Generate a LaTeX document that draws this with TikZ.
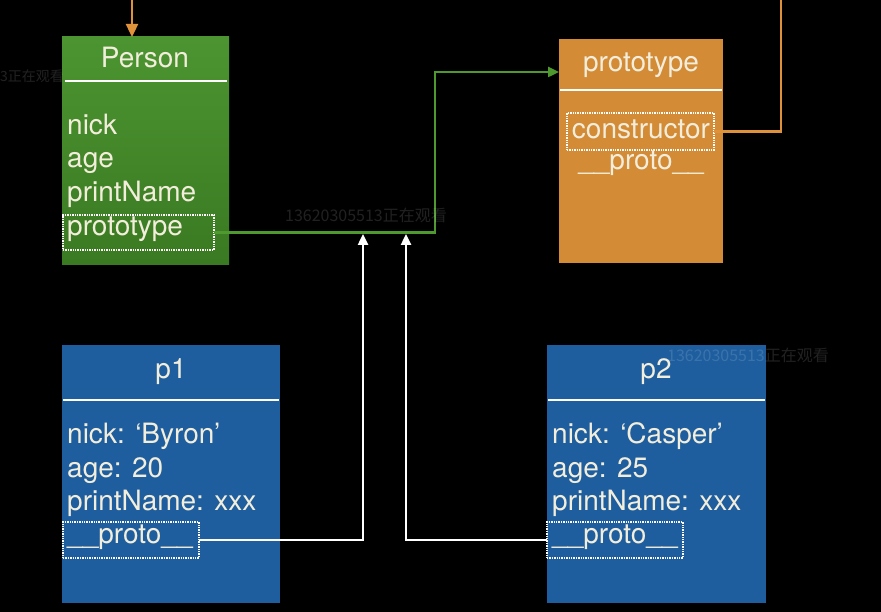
\documentclass[tikz,border=0pt]{standalone}
\usepackage{fontspec}
\setmainfont{TeX Gyre Heros}
\newfontfamily\cjk{Noto Sans CJK SC}
\usetikzlibrary{arrows.meta}

\definecolor{persongreentop}{HTML}{4C9431}
\definecolor{persongreenbot}{HTML}{3A7A22}
\definecolor{protoorange}{HTML}{D38B36}
\definecolor{objblue}{HTML}{1E5E9E}
\definecolor{txtcream}{HTML}{F3EEDC}
\definecolor{connorange}{HTML}{E0923A}
\definecolor{conngreen}{HTML}{4E9A2E}

\tikzset{
  objbox/.style={rectangle, anchor=north west, inner sep=0pt, outer sep=0pt},
  title/.style={text=txtcream, font=\fontsize{28}{31}\selectfont, anchor=base, inner sep=0pt},
  field/.style={text=txtcream, font=\fontsize{28}{31}\selectfont, anchor=base west, inner sep=0pt},
  dotbox/.style={draw=white, densely dotted, line width=1.4pt, anchor=north west, inner sep=0pt, outer sep=0pt},
  sepline/.style={white, line width=2.2pt},
  link/.style={line width=2.4pt, -{Triangle[length=11pt,width=10pt]}},
  watermark/.style={text=white, text opacity=0.13, font=\cjk\fontsize{16}{16}\selectfont}
}

\begin{document}
\begin{tikzpicture}[x=1pt,y=-1pt]
  \fill[black] (0,0) rectangle (881,612);
  \clip (0,0) rectangle (881,612);

  % Person
  \node[objbox, top color=persongreentop, bottom color=persongreenbot,
        minimum width=167pt, minimum height=228pt] (person) at (62,37) {};
  \node[title] (persontitle) at (145,68) {Person};
  \draw[sepline] ([shift={(3,44)}]person.north west) -- ([shift={(-2,44)}]person.north east);
  \node[field] (pnick) at (67,135) {nick};
  \node[field] (page) at (67,168) {age};
  \node[field] (pprint) at (67,202) {printName};
  \node[field] (pproto) at (67,236) {prototype};
  \node[dotbox, minimum width=151pt, minimum height=35pt] (pprotobox) at (63,215) {};

  % prototype
  \node[objbox, fill=protoorange, minimum width=164pt, minimum height=224pt] (pbox) at (559,39) {};
  \node[title] (ptitle) at (641,72) {prototype};
  \draw[sepline] ([shift={(1,51)}]pbox.north west) -- ([shift={(-1,51)}]pbox.north east);
  \node[title] (cons) at (641,139) {constructor};
  \node[dotbox, minimum width=147pt, minimum height=37pt] (consbox) at (567,113) {};
  \node[title] (pboxproto) at (641,170) {\_\_proto\_\_};

  % p1
  \node[objbox, fill=objblue, minimum width=218pt, minimum height=258pt] (p1) at (62,345) {};
  \node[title] (p1title) at (171,378) {p1};
  \draw[sepline] ([shift={(1,55)}]p1.north west) -- ([shift={(-1,55)}]p1.north east);
  \node[field] (p1nick) at (67,443) {nick: ‘Byron’};
  \node[field] (p1age) at (67,477) {age: 20};
  \node[field] (p1print) at (67,510) {printName: xxx};
  \node[field] (p1proto) at (67,543) {\_\_proto\_\_};
  \node[dotbox, minimum width=136pt, minimum height=36pt] (p1protobox) at (63,522) {};

  % p2
  \node[objbox, fill=objblue, minimum width=219pt, minimum height=258pt] (p2) at (547,345) {};
  \node[title] (p2title) at (656,378) {p2};
  \draw[sepline] ([shift={(1,55)}]p2.north west) -- ([shift={(-1,55)}]p2.north east);
  \node[field] (p2nick) at (552,443) {nick: ‘Casper’};
  \node[field] (p2age) at (552,477) {age: 25};
  \node[field] (p2print) at (552,510) {printName: xxx};
  \node[field] (p2proto) at (552,543) {\_\_proto\_\_};
  \node[dotbox, minimum width=136pt, minimum height=36pt] (p2protobox) at (547,522) {};

  % connectors
  \coordinate (otop) at (132,0);
  \coordinate (oright) at (781,0);
  \coordinate (gbend) at (435,72);
  \coordinate (wa) at (363,234);
  \coordinate (wb) at (406,234);
  \draw[link, connorange, -{Triangle[length=13pt,width=12pt]}] (otop) -- (otop |- person.north);
  \draw[connorange, line width=2.4pt] (consbox.east) -| (oright);
  \draw[link, conngreen] (pprotobox.east) -| (gbend) -- (gbend -| pbox.west);
  \draw[link, white] (p1protobox.east) -| (wa);
  \draw[link, white] (p2protobox.west) -| (wb);

  % watermarks
  \node[watermark, anchor=west, inner sep=0pt, font=\cjk\fontsize{14}{14}\selectfont] (wmleft) at (0,76) {3正在观看};
  \node[watermark] (wmmid) at (366,215) {13620305513正在观看};
  \node[watermark] (wmright) at (748,355) {13620305513正在观看};
\end{tikzpicture}
\end{document}
